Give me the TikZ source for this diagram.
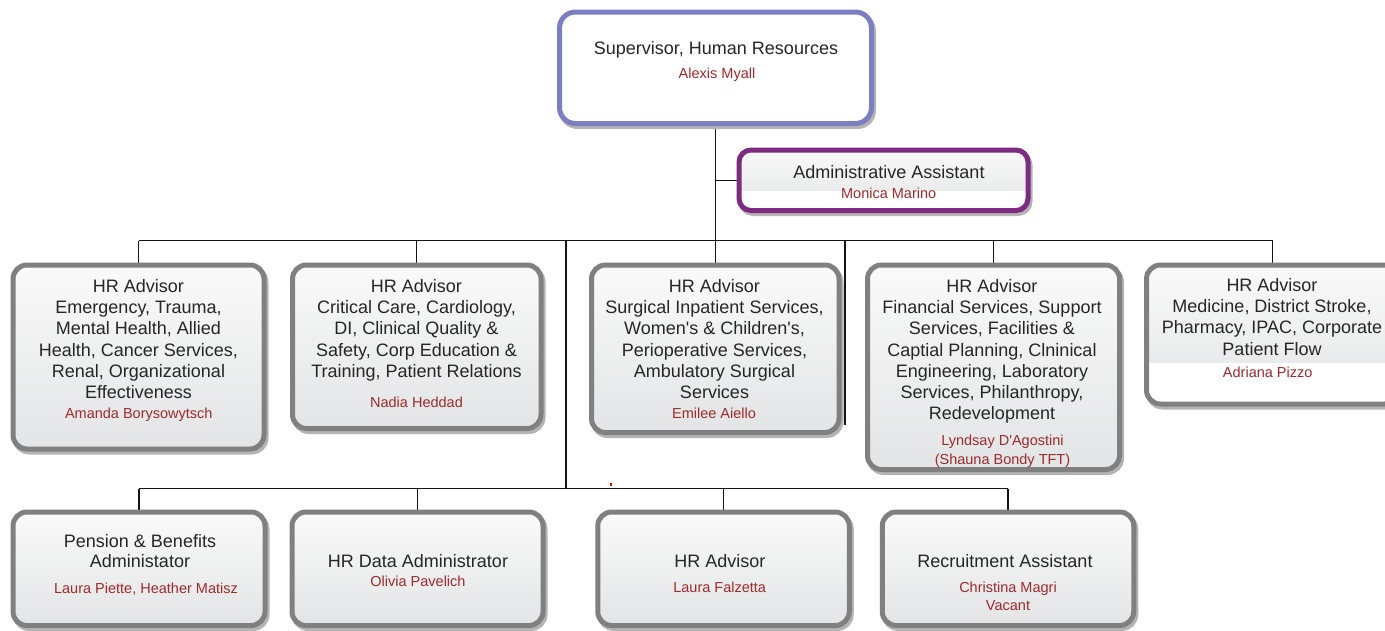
\documentclass[tikz,border=0pt]{standalone}
\usepackage{fontspec}
\setmainfont{Liberation Sans}
\usetikzlibrary{backgrounds}
\definecolor{bordergray}{HTML}{808080}
\definecolor{topblue}{HTML}{7B7FC1}
\definecolor{admpurple}{HTML}{7D2A81}
\definecolor{txtcol}{HTML}{262626}
\definecolor{nmcol}{HTML}{9E2A2B}
\definecolor{shadowcol}{HTML}{B4B4B4}
\definecolor{filltop}{HTML}{FAFAFA}
\definecolor{fillbot}{HTML}{E3E4E5}
\tikzset{
  boxbase/.style={rectangle, inner sep=0pt, line width=5pt,
    preaction={draw=shadowcol, line width=5pt, transform canvas={xshift=2pt, yshift=-3pt}}},
  graybox/.style={boxbase, rounded corners=14pt, draw=bordergray, top color=filltop, bottom color=fillbot},
  halfbox/.style={graybox, path picture={\fill[white, sharp corners] ([yshift=-#1]path picture bounding box.west) rectangle (path picture bounding box.south east);}},
  topbox/.style={boxbase, rounded corners=16pt, draw=topblue, fill=white},
  admbox/.style={boxbase, rounded corners=12pt, draw=admpurple, top color=filltop, bottom color=fillbot,
    path picture={\fill[white, sharp corners] ([yshift=-10.75pt]path picture bounding box.west) rectangle (path picture bounding box.south east);}},
  ttl/.style={anchor=north, align=center, inner sep=0pt, text=txtcol, font=\fontsize{18}{21.2}\selectfont, execute at begin node=\strut},
  nm/.style={anchor=north, align=center, inner sep=0pt, text=nmcol, font=\fontsize{14.5}{18.5}\selectfont, execute at begin node=\strut},
  conn/.style={draw=black!92, line width=1.4pt}
}
\begin{document}
\begin{tikzpicture}[x=1pt,y=-1pt]
\useasboundingbox (0,0) rectangle (1385,630);
\clip (0,0) rectangle (1385,630);

% top
\node[topbox, minimum width=312pt, minimum height=111.5pt] (top) at (715.5,67.75) {};
\node[ttl] (topt) at (716,39) {Supervisor, Human Resources};
\node[nm] (topn) at (717,65.5) {Alexis Myall};

% admin
\node[admbox, minimum width=289pt, minimum height=60.5pt] (adm) at (883.5,180.25) {};
\node[ttl] (admt) at (889,163.5) {Administrative Assistant};
\node[nm] (admn) at (888.7,185.5) {Monica Marino};

% row 1
\node[graybox, minimum width=251pt, minimum height=184pt] (a1) at (138.5,357) {};
\node[ttl] (a1t) at (138.5,279.3) {HR Advisor\\Emergency, Trauma,\\Mental Health, Allied\\Health, Cancer Services,\\Renal, Organizational\\Effectiveness};
\node[nm] (a1n) at (138.8,405.4) {Amanda Borysowytsch};

\node[graybox, minimum width=248.5pt, minimum height=163.5pt] (a2) at (416.75,346.75) {};
\node[ttl] (a2t) at (416.5,279.3) {HR Advisor\\Critical Care, Cardiology,\\DI, Clinical Quality \&\\Safety, Corp Education \&\\Training, Patient Relations};
\node[nm] (a2n) at (416.5,394.4) {Nadia Heddad};

\node[graybox, minimum width=247.5pt, minimum height=167.5pt] (a3) at (715.25,348.75) {};
\node[ttl] (a3t) at (714.5,279.3) {HR Advisor\\Surgical Inpatient Services,\\Women\textquotesingle s \& Children\textquotesingle s,\\Perioperative Services,\\Ambulatory Surgical\\Services};
\node[nm] (a3n) at (714,405.4) {Emilee Aiello};

\node[graybox, minimum width=252pt, minimum height=204.5pt] (a4) at (993.5,367.25) {};
\node[ttl] (a4t) at (992,279.3) {HR Advisor\\Financial Services, Support\\Services, Facilities \&\\Captial Planning, Clninical\\Engineering, Laboratory\\Services, Philanthropy,\\Redevelopment};
\node[nm, font=\fontsize{14.5}{19}\selectfont] (a4n) at (1002.5,434.9) {Lyndsay D\textquotesingle Agostini\\(Shauna Bondy TFT)};

\node[halfbox=28.5pt, minimum width=252pt, minimum height=139pt] (a5) at (1272.5,334.5) {};
\node[ttl] (a5t) at (1272,278.3) {HR Advisor\\Medicine, District Stroke,\\Pharmacy, IPAC, Corporate\\Patient Flow};
\node[nm] (a5n) at (1267.7,364.4) {Adriana Pizzo};

% row 2
\node[graybox, minimum width=252pt, minimum height=113.5pt] (c1) at (139,568.75) {};
\node[ttl, font=\fontsize{18}{20}\selectfont] (c1t) at (140,534.3) {Pension \& Benefits\\Administator};
\node[nm] (c1n) at (146,580.4) {Laura Piette, Heather Matisz};

\node[graybox, minimum width=251pt, minimum height=113.5pt] (c2) at (417.5,568.75) {};
\node[ttl] (c2t) at (418,552.3) {HR Data Administrator};
\node[nm] (c2n) at (418,573.4) {Olivia Pavelich};

\node[graybox, minimum width=251.5pt, minimum height=113.5pt] (c3) at (723.5,568.75) {};
\node[ttl] (c3t) at (720,552.3) {HR Advisor};
\node[nm] (c3n) at (719.7,579.4) {Laura Falzetta};

\node[graybox, minimum width=251.5pt, minimum height=113.5pt] (c4) at (1008,568.75) {};
\node[ttl] (c4t) at (1005,552.3) {Recruitment Assistant};
\node[nm, font=\fontsize{14.5}{18}\selectfont] (c4n) at (1008,581.9) {Christina Magri\\Vacant};

% connectors
\coordinate (j1) at (715,240.5);
\coordinate (j2) at (566,240.5);
\coordinate (j3) at (566,488.5);
\coordinate (j4) at (845,240.5);
\coordinate (j5) at (845,425);
\begin{scope}[on background layer]
\fill[white] (0,0) rectangle (1385,630);
\draw[conn] (top.south) -- (top.south |- j1);
\draw[conn] (top.south |- adm.west) -- (adm.west);
\draw[conn] (a1.north |- j1) -- (a5.north |- j1);
\foreach \n in {a1,a2,a3,a4,a5} \draw[conn] (\n.north |- j1) -- (\n.north);
\draw[conn] (j2) -- (j3);
\draw[conn] (j4) -- (j5);
\draw[conn] (c1.north |- j3) -- (c4.north |- j3);
\foreach \n in {c1,c2,c3,c4} \draw[conn] (\n.north |- j3) -- (\n.north);
\end{scope}
\fill[red] (609.5,483) rectangle (612,485.5);
\end{tikzpicture}
\end{document}
